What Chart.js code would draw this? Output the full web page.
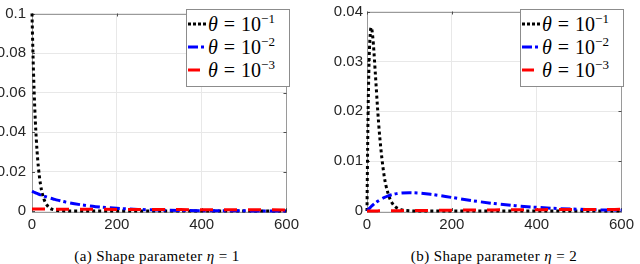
<!DOCTYPE html>
<html>
<head>
<meta charset="utf-8">
<script src="https://cdn.jsdelivr.net/npm/chart.js@4"></script>
<style>
  body { margin: 0; background: #fff; width: 640px; height: 264px; position: relative; overflow: hidden; }
  .box { position: absolute; top: 0; }
  .legend { position: absolute; background: #fff; border: 1px solid #8c8c8c; font-family: "Liberation Serif", serif; font-size: 20px; color: #000; }
  .row { position: absolute; left: 0; height: 22px; line-height: 22px; white-space: nowrap; }
  .row svg { position: absolute; left: 1px; top: 9px; }
  .row .txt { position: absolute; left: 21px; top: 0; }
  .row i { font-style: italic; }
  .row sup { font-size: 13px; vertical-align: 8px; line-height: 0; }
  .eq { margin: 0 6px; }
  .caption { position: absolute; top: 248px; font-family: "Liberation Serif", serif; font-size: 15px; letter-spacing: 0.4px; color: #000; white-space: nowrap; transform: translateX(-50%); }
</style>
</head>
<body>
<div class="box" style="left:0px"><canvas id="chartA" width="305" height="241"></canvas></div>
<div class="box" style="left:320px"><canvas id="chartB" width="320" height="241"></canvas></div>

<div class="legend" style="left:186px; top:9px; width:102px; height:76px;">
  <div class="row" style="top:3px"><svg width="20" height="4"><line x1="0" y1="2" x2="20" y2="2" stroke="#000" stroke-width="3" stroke-dasharray="3,2"/></svg><span class="txt"><i>θ</i><span class="eq">=</span>10<sup>−1</sup></span></div>
  <div class="row" style="top:26px"><svg width="20" height="4"><line x1="0" y1="2" x2="20" y2="2" stroke="#0000ff" stroke-width="3" stroke-dasharray="10,3,3,4"/></svg><span class="txt"><i>θ</i><span class="eq">=</span>10<sup>−2</sup></span></div>
  <div class="row" style="top:49px"><svg width="20" height="4"><line x1="0" y1="2" x2="12" y2="2" stroke="#ff0000" stroke-width="3"/></svg><span class="txt"><i>θ</i><span class="eq">=</span>10<sup>−3</sup></span></div>
</div>
<div class="legend" style="left:520px; top:9px; width:102px; height:76px;">
  <div class="row" style="top:3px"><svg width="20" height="4"><line x1="0" y1="2" x2="20" y2="2" stroke="#000" stroke-width="3" stroke-dasharray="3,2"/></svg><span class="txt"><i>θ</i><span class="eq">=</span>10<sup>−1</sup></span></div>
  <div class="row" style="top:26px"><svg width="20" height="4"><line x1="0" y1="2" x2="20" y2="2" stroke="#0000ff" stroke-width="3" stroke-dasharray="10,3,3,4"/></svg><span class="txt"><i>θ</i><span class="eq">=</span>10<sup>−2</sup></span></div>
  <div class="row" style="top:49px"><svg width="20" height="4"><line x1="0" y1="2" x2="12" y2="2" stroke="#ff0000" stroke-width="3"/></svg><span class="txt"><i>θ</i><span class="eq">=</span>10<sup>−3</sup></span></div>
</div>

<div class="caption" style="left:157px">(a) Shape parameter <i>η</i> = 1</div>
<div class="caption" style="left:494px">(b) Shape parameter <i>η</i> = 2</div>

<script>
// x positions shared by every curve
const xValues = [0, 2, 5, 8, 10, 12, 15, 20, 25, 30, 40, 50, 60, 70, 80, 100, 120, 150, 200, 250, 300, 350, 400, 450, 500, 550, 600];

// (a) shape parameter eta = 1
const shape1Theta1 = [0.1, 0.0819, 0.0607, 0.0449, 0.0368, 0.0301, 0.0223, 0.0135, 0.0082, 0.0050, 0.0018, 0.0007, 0.00025, 0.0001, 0.00003, 0.000005, 0, 0, 0, 0, 0, 0, 0, 0, 0, 0, 0];
const shape1Theta2 = [0.01, 0.0098, 0.0095, 0.0092, 0.00905, 0.00887, 0.0086, 0.0082, 0.0078, 0.0074, 0.0067, 0.0061, 0.0055, 0.0050, 0.0045, 0.0037, 0.0030, 0.0022, 0.00135, 0.00082, 0.0005, 0.0003, 0.00018, 0.00011, 0.00007, 0.00004, 0.000025];
const shape1Theta3 = [0.001, 0.000998, 0.000995, 0.000992, 0.00099, 0.000988, 0.000985, 0.00098, 0.000975, 0.00097, 0.00096, 0.00095, 0.00094, 0.00093, 0.00092, 0.000905, 0.00089, 0.00086, 0.00082, 0.00078, 0.00074, 0.0007, 0.00067, 0.00064, 0.00061, 0.00058, 0.00055];

// (b) shape parameter eta = 2
const shape2Theta1 = [0, 0.0164, 0.0303, 0.0359, 0.0368, 0.0361, 0.0335, 0.0271, 0.0205, 0.0149, 0.0073, 0.0034, 0.0015, 0.00064, 0.00027, 0.000045, 0.00001, 0, 0, 0, 0, 0, 0, 0, 0, 0, 0];
const shape2Theta2 = [0, 0.000196, 0.000476, 0.000738, 0.000905, 0.00106, 0.00129, 0.00164, 0.00195, 0.00222, 0.00268, 0.00303, 0.00329, 0.00348, 0.00359, 0.00368, 0.00361, 0.00335, 0.00271, 0.00205, 0.00149, 0.00106, 0.00073, 0.0005, 0.00034, 0.000225, 0.000149];
const shape2Theta3 = [0, 0.000002, 0.000005, 0.000008, 0.00001, 0.000012, 0.000015, 0.00002, 0.000024, 0.000029, 0.000038, 0.000048, 0.000057, 0.000065, 0.000074, 0.00009, 0.000107, 0.000129, 0.000164, 0.000195, 0.000222, 0.000246, 0.000268, 0.000287, 0.000303, 0.000317, 0.000329];

const seriesLabels = ['θ = 10⁻¹', 'θ = 10⁻²', 'θ = 10⁻³'];
const xTicks = [0, 200, 400, 600];

// box around the axes with inward ticks (matlab style)
const framePlugin = {
    id: 'frame',
    beforeDatasetsDraw(chart) {
        const ctx = chart.ctx;
        const a = chart.chartArea;
        const xs = chart.scales.x, ys = chart.scales.y;
        ctx.save();
        ctx.strokeStyle = '#9a9a9a';
        ctx.lineWidth = 1;
        ctx.strokeRect(Math.round(a.left) + 0.5, Math.round(a.top) + 0.5, Math.round(a.right - a.left), Math.round(a.bottom - a.top));
        ctx.strokeStyle = '#4d4d4d';
        ctx.beginPath();
        xs.ticks.forEach(t => {
            const px = Math.round(xs.getPixelForValue(t.value)) + 0.5;
            ctx.moveTo(px, a.bottom); ctx.lineTo(px, a.bottom - 3);
            ctx.moveTo(px, a.top); ctx.lineTo(px, a.top + 3);
        });
        ys.ticks.forEach(t => {
            const py = Math.round(ys.getPixelForValue(t.value)) + 0.5;
            ctx.moveTo(a.left, py); ctx.lineTo(a.left + 3, py);
            ctx.moveTo(a.right, py); ctx.lineTo(a.right - 3, py);
        });
        ctx.stroke();
        ctx.restore();
    }
};

function makeChart(id, s1, s2, s3, yMax, yStep, axisWidth, labelPad) {
    const ctx = document.getElementById(id).getContext('2d');
    const pts = arr => xValues.map((x, i) => ({ x: x, y: arr[i] }));
    return new Chart(ctx, {
        type: 'line',
        data: {
            datasets: [
                { label: seriesLabels[0], data: pts(s1), borderColor: '#000000', borderWidth: 3, borderDash: [3, 3], order: 2 },
                { label: seriesLabels[1], data: pts(s2), borderColor: '#0000ff', borderWidth: 3, borderDash: [10, 3, 3, 4], order: 1 },
                { label: seriesLabels[2], data: pts(s3), borderColor: '#ff0000', borderWidth: 3, borderDash: [13, 11], order: 0 }
            ]
        },
        options: {
            responsive: false,
            animation: false,
            layout: { padding: 0 },
            elements: {
                point: { radius: 0 },
                line: { cubicInterpolationMode: 'monotone', fill: false, borderCapStyle: 'butt' }
            },
            datasets: { line: { clip: 4 } },
            plugins: { legend: { display: false }, tooltip: { enabled: false } },
            scales: {
                x: {
                    type: 'linear', min: 0, max: 600,
                    afterBuildTicks: scale => { scale.ticks = xTicks.map(v => ({ value: v })); },
                    afterFit: scale => { scale.height = 30; },
                    grid: { color: '#e8e8e8', drawTicks: false },
                    border: { display: false },
                    ticks: { color: '#262626', padding: 6, maxRotation: 0, font: { family: 'Liberation Sans', size: 15, lineHeight: 1 } }
                },
                y: {
                    min: 0, max: yMax,
                    afterFit: scale => { scale.width = axisWidth; },
                    grid: { color: '#e8e8e8', drawTicks: false },
                    border: { display: false },
                    ticks: {
                        stepSize: yStep, color: '#262626', padding: labelPad,
                        font: { family: 'Liberation Sans', size: 15, lineHeight: 1 },
                        callback: v => String(parseFloat(v.toFixed(3)))
                    }
                }
            }
        },
        plugins: [framePlugin]
    });
}

makeChart('chartA', shape1Theta1, shape1Theta2, shape1Theta3, 0.1, 0.02, 32, 6);
makeChart('chartB', shape2Theta1, shape2Theta2, shape2Theta3, 0.04, 0.01, 47, 4);
</script>
</body>
</html>
